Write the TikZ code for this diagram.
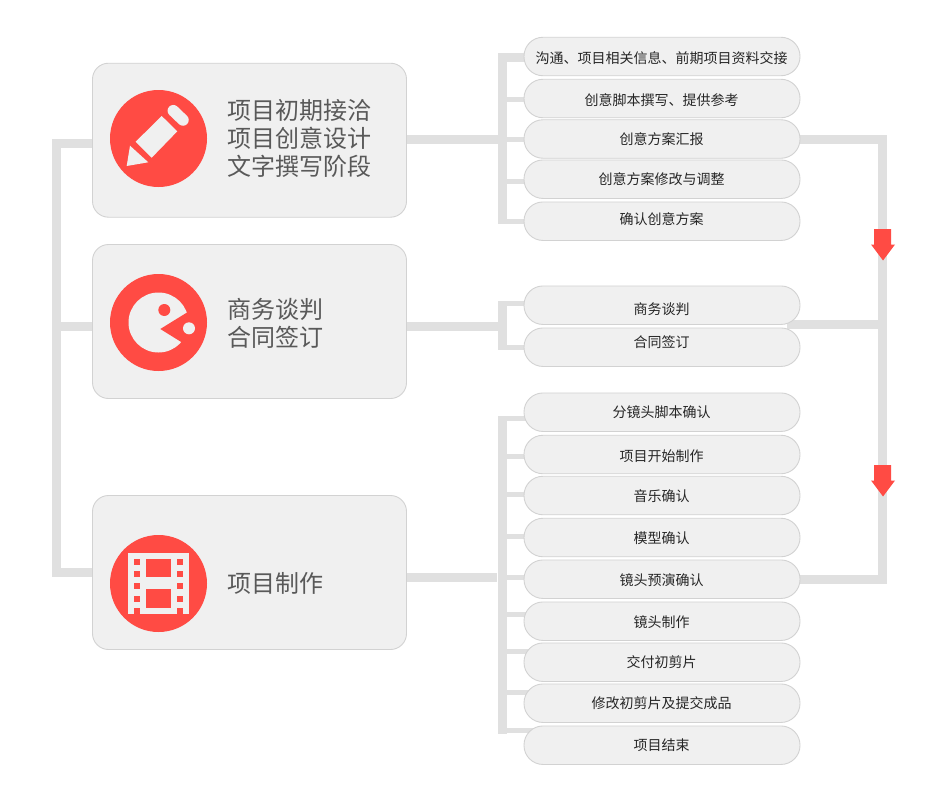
\documentclass[tikz,border=0pt]{standalone}
\usepackage{fontspec}
\setmainfont{Noto Sans CJK SC}
\usetikzlibrary{backgrounds}
\definecolor{tone}{HTML}{FF4B44}
\definecolor{panel}{HTML}{F0F0F0}
\definecolor{edge}{HTML}{D2D2D2}
\definecolor{bar}{HTML}{E0E0E0}
\tikzset{
  stagebox/.style={draw=edge, fill=panel, rounded corners=16pt, line width=.9pt, minimum width=314pt, minimum height=154pt},
  pill/.style={draw=edge, fill=panel, rounded corners=19pt, line width=.9pt, minimum width=276pt, minimum height=38.5pt},
  stagetext/.style={anchor=west, align=left, inner sep=0pt, text=black!65, font=\fontsize{24}{28}\selectfont},
  itemtext/.style={inner sep=0pt, text=black!85, font=\fontsize{14}{16}\selectfont},
  bar/.style={draw=bar, line width=9pt},
  branch/.style={draw=bar, line width=5pt},
  badge/.style={fill=tone, circle, minimum size=97pt, inner sep=0pt},
  downarrow/.style={fill=tone},
}
\begin{document}
\begin{tikzpicture}[x=1pt, y=-1pt]
  \useasboundingbox (0,0) rectangle (947,803);

  % stages
  \node[stagebox] (stagea) at (249.5,140.2) {};
  \node[stagebox] (stageb) at (249.5,321.5) {};
  \node[stagebox] (stagec) at (249.5,572.5) {};
  \node[badge] (badgea) at (158.5,138.5) {};
  \node[badge] (badgeb) at (158.5,322.5) {};
  \node[badge] (badgec) at (158.5,583.5) {};
  \node[stagetext] (texta) at (227,138) {项目初期接洽\\项目创意设计\\文字撰写阶段};
  \node[stagetext] (textb) at (227,323) {商务谈判\\合同签订};
  \node[stagetext] (textc) at (227,583) {项目制作};

  % pills: name, centre, text position, text
  \foreach \name/\y/\ty/\txt in {
      pa/56.5/58/沟通、项目相关信息、前期项目资料交接,
      pb/98.5/100/创意脚本撰写、提供参考,
      pc/139/139/创意方案汇报,
      pd/179.2/179/创意方案修改与调整,
      pe/221.2/219/确认创意方案,
      pf/305.2/309/商务谈判,
      pg/347.2/342/合同签订,
      ph/412.2/412/分镜头脚本确认,
      pi/454.5/456/项目开始制作,
      pj/495.5/496/音乐确认,
      pk/537.5/538/模型确认,
      pl/579.2/580/镜头预演确认,
      pm/621.2/622/镜头制作,
      pn/662.2/662/交付初剪片,
      po/703.2/703/修改初剪片及提交成品,
      pp/745.2/745/项目结束} {
    \node[pill] (\name) at (662,\y) {};
    \node[itemtext] (\name t) at (661.5,\ty) {\txt};
  }

  % connectors sit behind the boxes
  \coordinate (trunka) at (502.5,139);
  \coordinate (trunkb) at (502.5,326.5);
  \coordinate (trunkc) at (502.5,577.5);
  \coordinate (spine) at (882.5,324.5);
  \coordinate (bandend) at (787,324.5);
  \begin{scope}[on background layer]
    \draw[bar] (stagea.west |- 0,143) -| (56.5,572.5) -- (stagec.west |- 0,572.5);
    \draw[bar] (56.5,326.5) -- (stageb.west |- 0,326.5);
    \draw[bar] (stagea.east |- trunka) -- (trunka);
    \draw[bar] (stageb.east |- trunkb) -- (trunkb);
    \draw[bar] (stagec.east |- trunkc) -- (497,577.5);
    \draw[bar] (pa.center |- 0,57) -| (trunka |- 0,224);
    \draw[bar] (trunkb |- 0,301) -- (trunkb |- 0,349.7);
    \draw[bar] (trunkc |- 0,416) -- (trunkc |- 0,733.7);
    \foreach \y in {99,139.5,181.5,221.5,303.5,347.5,418.5,456.5,494.5,536.5,577.5,614.5,651.5,692.5,730.5}
      \draw[branch] (trunka |- 0,\y) -- (pa.center |- 0,\y);
    \draw[bar] (pc.center) -| (spine) |- (pl.center);
    \draw[bar] (spine) -- (bandend);
  \end{scope}

  % arrows on the right
  \foreach \top in {229,465}
    \fill[downarrow] (874,\top) -- (891,\top) -- (891,\top+15.5) -- (895,\top+15.5)
      -- (883,\top+31.5) -- (871,\top+15.5) -- (874,\top+15.5) -- cycle;

  % pencil
  \fill[panel] (161.7,116) -- (177.3,131.3) -- (151.7,157.7) -- (135.7,141.7) -- cycle;
  \fill[panel] (130,145.7) -- (148.3,162.3) -- (126.7,166) -- cycle;
  \draw[panel, line width=11.5pt, line cap=round] (173.3,110.7) -- (183,120);

  % pacman
  \fill[panel] (badgeb) circle (30);
  \fill[tone] (160.3,329) -- (192,309.4) -- (196,327) -- (186.7,345.4) -- cycle;
  \fill[tone] (164.3,310) circle (6);
  \fill[panel] (189,328.3) circle (6);

  % film strip
  \fill[panel] (128,553.3) rectangle (188.7,614);
  \fill[tone] (146,559.3) rectangle (170.7,577.3);
  \fill[tone] (146,589.3) rectangle (170.7,607.7);
  \foreach \x in {134,176.7}{
    \foreach \y in {559.3,571.3,583.3,595.6}
      \fill[tone] (\x,\y) rectangle (\x+6,\y+6);
    \fill[tone] (\x,607.7) rectangle (\x+6,614);
  }
\end{tikzpicture}
\end{document}
